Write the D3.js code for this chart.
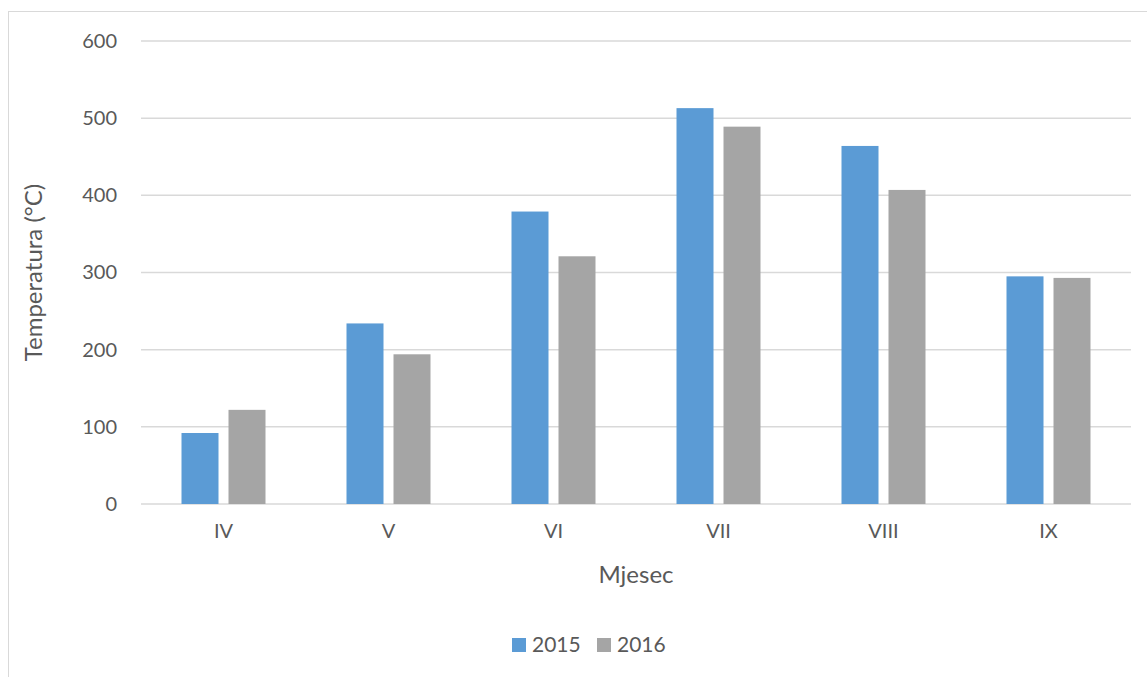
<!doctype html>
<html>
<head>
  <meta charset="utf-8">
  <title>Temperatura po mjesecima</title>
  <script src="https://d3js.org/d3.v7.min.js"></script>
  <style>
    body { margin:0; background:#fff; font-family:Lato, "Open Sans", sans-serif; }
    svg { display:block }
    .tick text { fill:#595959; font-size:20px; font-family:Lato, "Open Sans", sans-serif }
    .title { fill:#595959; font-size:24px }
    .leg { fill:#595959; font-size:21px }
  </style>
</head>
<body>
  <svg id="chart" width="1147" height="677"></svg>
  <script>
    const months  = ["IV","V","VI","VII","VIII","IX"];
    const years   = ["2015","2016"];
    const v2015   = [92, 234, 379, 513, 464, 295];
    const v2016   = [122, 194, 321, 489, 407, 293];
    const yTicks  = [0,100,200,300,400,500,600];
    const colors  = ["#5b9bd5","#a5a5a5"];

    const svg = d3.select("#chart");
    const plotL = 141, plotR = 1131, plotT = 41, plotB = 504;

    // chart frame
    svg.append("rect")
      .attr("x",8.5).attr("y",11.5)
      .attr("width",1160).attr("height",700)
      .attr("fill","none").attr("stroke","#d9d9d9");

    const x = d3.scaleBand().domain(months).range([plotL,plotR]);
    const y = d3.scaleLinear().domain([0,600]).range([plotB,plotT]);
    const xs = d3.scaleBand().domain(years)
      .range([x.bandwidth()/2-42, x.bandwidth()/2+42]).paddingInner(10/47);

    // gridlines
    svg.append("g").selectAll("line").data(yTicks).join("line")
      .attr("x1",plotL).attr("x2",plotR)
      .attr("y1",d=>y(d)).attr("y2",d=>y(d))
      .attr("stroke","#d9d9d9").attr("stroke-width",1.5);

    const yAxis = svg.append("g")
      .attr("transform",`translate(${plotL},0)`)
      .call(d3.axisLeft(y).tickValues(yTicks).tickSize(0).tickPadding(24));
    yAxis.select(".domain").remove();

    const xAxis = svg.append("g")
      .attr("transform",`translate(0,${plotB})`)
      .call(d3.axisBottom(x).tickSize(0).tickPadding(20));
    xAxis.select(".domain").remove();

    const rows = months.map((m,i)=>({m, vals:[v2015[i], v2016[i]]}));
    const grp = svg.append("g").selectAll("g").data(rows).join("g")
      .attr("transform",d=>`translate(${x(d.m)},0)`);
    grp.selectAll("rect").data(d=>d.vals.map((v,j)=>({v,j}))).join("rect")
      .attr("x",d=>xs(years[d.j]))
      .attr("width",xs.bandwidth())
      .attr("y",d=>y(d.v))
      .attr("height",d=>y(0)-y(d.v))
      .attr("fill",d=>colors[d.j]);

    svg.append("text").attr("class","title")
      .attr("x",(plotL+plotR)/2).attr("y",583)
      .attr("text-anchor","middle").text("Mjesec");

    svg.append("text").attr("class","title")
      .attr("transform",`translate(42,${(plotT+plotB)/2}) rotate(-90)`)
      .attr("text-anchor","middle").text("Temperatura (°C)");

    // legend
    const leg = svg.append("g").attr("transform","translate(512,638)");
    years.forEach((yr,i)=>{
      const g = leg.append("g").attr("transform",`translate(${i*85},0)`);
      g.append("rect").attr("width",14).attr("height",14).attr("fill",colors[i]);
      g.append("text").attr("class","leg").attr("x",20).attr("y",14).text(yr);
    });
  </script>
</body>
</html>
